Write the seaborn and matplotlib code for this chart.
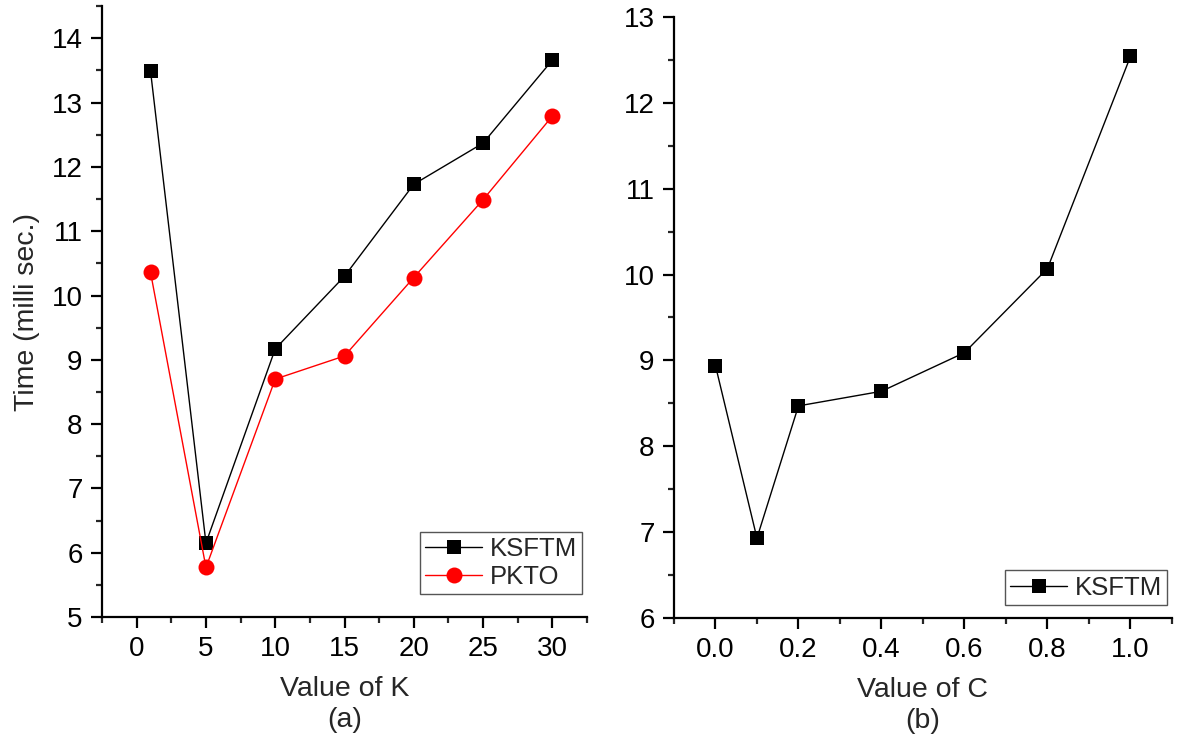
import numpy as np
import pandas as pd
import seaborn as sns
import matplotlib.pyplot as plt
from matplotlib.ticker import MultipleLocator

# data
k_values = [1, 5, 10, 15, 20, 25, 30]
ksftm_k = [13.49, 6.15, 9.17, 10.30, 11.73, 12.37, 13.66]
pkto_k = [10.36, 5.77, 8.70, 9.06, 10.28, 11.49, 12.79]

c_values = [0.0, 0.1, 0.2, 0.4, 0.6, 0.8, 1.0]
ksftm_c = [8.94, 6.93, 8.47, 8.64, 9.09, 10.07, 12.54]

sns.set_style("ticks")
plt.rcParams['font.family'] = ['Liberation Sans', 'DejaVu Sans']

fig = plt.figure(figsize=(11.77, 7.44), dpi=100)
ax1 = fig.add_axes([0.0867, 0.1707, 0.412, 0.821])
ax2 = fig.add_axes([0.5726, 0.1694, 0.4231, 0.8078])

df_k = pd.DataFrame({'K': k_values, 'KSFTM': ksftm_k, 'PKTO': pkto_k})
df_c = pd.DataFrame({'C': c_values, 'KSFTM': ksftm_c})

sns.lineplot(data=df_k, x='K', y='KSFTM', ax=ax1, color='black', lw=1,
             marker='s', markersize=10.5, markeredgewidth=0, label='KSFTM')
sns.lineplot(data=df_k, x='K', y='PKTO', ax=ax1, color='red', lw=1,
             marker='o', markersize=11.5, markeredgewidth=0, label='PKTO')
sns.lineplot(data=df_c, x='C', y='KSFTM', ax=ax2, color='black', lw=1,
             marker='s', markersize=10.5, markeredgewidth=0, label='KSFTM')

ax1.set_xlim(-2.5, 32.5)
ax1.set_ylim(5, 14.5)
ax1.xaxis.set_major_locator(MultipleLocator(5))
ax1.xaxis.set_minor_locator(MultipleLocator(2.5))
ax1.yaxis.set_major_locator(MultipleLocator(1))
ax1.yaxis.set_minor_locator(MultipleLocator(0.5))

ax2.set_xlim(-0.1, 1.1)
ax2.set_ylim(6, 13)
ax2.xaxis.set_major_locator(MultipleLocator(0.2))
ax2.xaxis.set_minor_locator(MultipleLocator(0.1))
ax2.yaxis.set_major_locator(MultipleLocator(1))
ax2.yaxis.set_minor_locator(MultipleLocator(0.5))
ax2.xaxis.set_major_formatter(plt.FuncFormatter(lambda v, p: f"{v:.1f}"))

for ax in (ax1, ax2):
    sns.despine(ax=ax)
    for s in ('left', 'bottom'):
        ax.spines[s].set_linewidth(1.6)
        ax.spines[s].set_color('black')
    ax.tick_params(which='major', direction='out', length=8, width=1.6,
                   labelsize=20, pad=6, colors='black')
    ax.tick_params(which='minor', direction='out', length=4.5, width=1.6)
    ax.set_ylabel('')

ax1.set_xlabel('Value of K\n(a)', fontsize=20.5, labelpad=10, linespacing=1.25)
ax2.set_xlabel('Value of C\n(b)', fontsize=20.5, labelpad=10, linespacing=1.25)
ax1.set_ylabel('Time (milli sec.)', fontsize=20.5, labelpad=8)

for ax, anchor in ((ax1, (0.99, 0.037)), (ax2, (0.99, 0.022))):
    leg = ax.legend(loc='lower right', bbox_to_anchor=anchor, fontsize=18.5,
                    fancybox=False, framealpha=1, edgecolor='#555555',
                    handlelength=2.2, handletextpad=0.3, borderpad=0.2,
                    labelspacing=0.15, borderaxespad=0)
    leg.get_frame().set_linewidth(1)

fig.savefig('out.png', dpi=100)
